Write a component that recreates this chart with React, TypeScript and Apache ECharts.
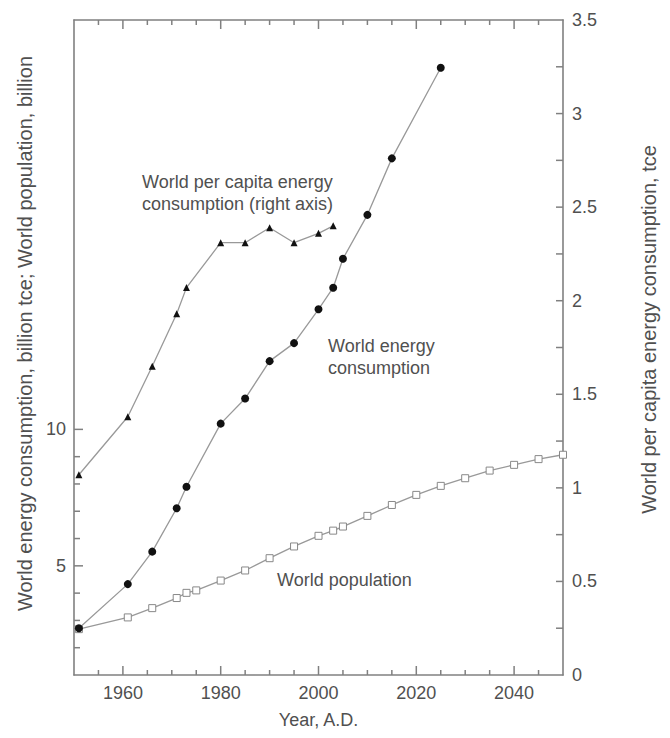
import React, { useEffect, useRef } from "react";
import * as echarts from "echarts";

const energyYears = [1951, 1961, 1966, 1971, 1973, 1980, 1985, 1990, 1995, 2000, 2003, 2005, 2010, 2015, 2025];
const energyValues = [2.71, 4.33, 5.52, 7.11, 7.9, 10.21, 11.13, 12.5, 13.16, 14.4, 15.19, 16.25, 17.86, 19.93, 23.25];

const perCapitaYears = [1951, 1961, 1966, 1971, 1973, 1980, 1985, 1990, 1995, 2000, 2003];
const perCapitaValues = [1.07, 1.38, 1.65, 1.93, 2.07, 2.31, 2.31, 2.39, 2.31, 2.36, 2.4];

const popYears = [1951, 1961, 1966, 1971, 1973, 1975, 1980, 1985, 1990, 1995, 2000, 2003, 2005, 2010, 2015, 2020, 2025, 2030, 2035, 2040, 2045, 2050];
const popValues = [2.68, 3.11, 3.45, 3.82, 4.01, 4.1, 4.46, 4.83, 5.28, 5.71, 6.1, 6.29, 6.44, 6.83, 7.23, 7.6, 7.93, 8.21, 8.49, 8.7, 8.91, 9.07];

const xMajorLabels = [1960, 1980, 2000, 2020, 2040];
const xTickYears = [1955, 1960, 1965, 1970, 1975, 1980, 1985, 1990, 1995, 2000, 2005, 2010, 2015, 2020, 2025, 2030, 2035, 2040, 2045];
const leftLabels = [5, 10];
const leftTicks = [2, 3, 4, 5, 6, 7, 8, 9, 10];
const rightLabels = [0, 0.5, 1, 1.5, 2, 2.5, 3, 3.5];
const rightTicks = [0.25, 0.5, 0.75, 1, 1.25, 1.5, 1.75, 2, 2.25, 2.5, 2.75, 3, 3.25];

const FONT = "Liberation Sans, Arial, sans-serif";
const AXIS_COLOR = "#808080";
const TEXT_COLOR = "#505050";
const LINE_COLOR = "#999";
const FS = 18;
const TITLE_FS = 20;

export default function App() {
  const ref = useRef<HTMLDivElement>(null);
  useEffect(() => {
    if (!ref.current) return;
    const chart = echarts.init(ref.current, undefined, { renderer: "svg" });
    const zip = (xs: number[], ys: number[]) => xs.map((x, i) => [x, ys[i]]);
    const tickStyle = { stroke: AXIS_COLOR, lineWidth: 1.5 };
    const option = {
      animation: false,
      backgroundColor: "#fff",
      textStyle: { fontFamily: FONT },
      grid: { left: 74, right: 107, top: 20, bottom: 63 },
      xAxis: [
        {
          type: "value",
          min: 1950,
          max: 2050,
          interval: 5,
          position: "bottom",
          splitLine: { show: false },
          axisLine: { show: true, onZero: false, lineStyle: { color: AXIS_COLOR, width: 1.6 } },
          axisTick: { show: false },
          axisLabel: {
            customValues: xMajorLabels,
            formatter: (v: number) => String(v),
            color: TEXT_COLOR,
            fontSize: FS,
            fontFamily: FONT,
            margin: 9,
          },
          name: "Year, A.D.",
          nameLocation: "middle",
          nameGap: 36,
          nameTextStyle: { color: TEXT_COLOR, fontSize: FS, fontFamily: FONT },
        },
        {
          type: "value",
          min: 1950,
          max: 2050,
          interval: 5,
          position: "top",
          splitLine: { show: false },
          axisLine: { show: true, onZero: false, lineStyle: { color: AXIS_COLOR, width: 1.6 } },
          axisTick: { show: false },
          axisLabel: { show: false },
        },
      ],
      yAxis: [
        {
          type: "value",
          position: "left",
          min: 1,
          max: 25,
          interval: 1,
          splitLine: { show: false },
          axisLine: { show: true, onZero: false, lineStyle: { color: AXIS_COLOR, width: 1.6 } },
          axisTick: { show: false },
          axisLabel: { customValues: leftLabels, color: TEXT_COLOR, fontSize: FS, fontFamily: FONT, margin: 8 },
          name: "World energy consumption, billion tce; World population, billion",
          nameLocation: "middle",
          nameRotate: 90,
          nameGap: 39,
          nameTextStyle: { color: TEXT_COLOR, fontSize: TITLE_FS, fontFamily: FONT, padding: [0, 0, 0, 28] },
        },
        {
          type: "value",
          position: "right",
          min: 0,
          max: 3.5,
          interval: 0.25,
          splitLine: { show: false },
          axisLine: { show: true, onZero: false, lineStyle: { color: AXIS_COLOR, width: 1.6 } },
          axisTick: { show: false },
          axisLabel: {
            customValues: rightLabels,
            formatter: (v: number) => String(v),
            color: TEXT_COLOR,
            fontSize: FS,
            fontFamily: FONT,
            margin: 9,
          },
          name: "World per capita energy consumption, tce",
          nameLocation: "middle",
          nameRotate: 90,
          nameGap: 76,
          nameTextStyle: { color: TEXT_COLOR, fontSize: TITLE_FS, fontFamily: FONT, padding: [0, 0, 0, 36] },
        },
      ],
      series: [
        {
          name: "x ticks",
          type: "custom",
          xAxisIndex: 0,
          yAxisIndex: 0,
          silent: true,
          clip: false,
          z: 1,
          data: xTickYears.map((y) => [y, xMajorLabels.includes(y) ? 1 : 0]),
          renderItem: (_p: any, api: any) => {
            const year = api.value(0);
            const len = api.value(1) === 1 ? 9 : 5;
            const bot = api.coord([year, 1]);
            const top = api.coord([year, 25]);
            return {
              type: "group",
              children: [
                { type: "line", shape: { x1: bot[0], y1: bot[1], x2: bot[0], y2: bot[1] - len }, style: tickStyle },
                { type: "line", shape: { x1: top[0], y1: top[1], x2: top[0], y2: top[1] + len }, style: tickStyle },
              ],
            };
          },
        },
        {
          name: "left ticks",
          type: "custom",
          xAxisIndex: 0,
          yAxisIndex: 0,
          silent: true,
          clip: false,
          z: 1,
          data: leftTicks.map((v) => [1950, v]),
          renderItem: (_p: any, api: any) => {
            const v = api.value(1);
            const len = leftLabels.includes(v) ? 9 : 6;
            const p = api.coord([1950, v]);
            return { type: "line", shape: { x1: p[0], y1: p[1], x2: p[0] + len, y2: p[1] }, style: tickStyle };
          },
        },
        {
          name: "right ticks",
          type: "custom",
          xAxisIndex: 0,
          yAxisIndex: 1,
          silent: true,
          clip: false,
          z: 1,
          data: rightTicks.map((v) => [2050, v]),
          renderItem: (_p: any, api: any) => {
            const v = api.value(1);
            const p = api.coord([2050, v]);
            return { type: "line", shape: { x1: p[0], y1: p[1], x2: p[0] - 7, y2: p[1] }, style: tickStyle };
          },
        },
        {
          name: "World energy consumption",
          type: "line",
          xAxisIndex: 0,
          yAxisIndex: 0,
          data: zip(energyYears, energyValues),
          symbol: "circle",
          symbolSize: 8,
          itemStyle: { color: "#111" },
          lineStyle: { color: LINE_COLOR, width: 1.3 },
          z: 3,
        },
        {
          name: "World per capita energy consumption",
          type: "line",
          xAxisIndex: 0,
          yAxisIndex: 1,
          data: zip(perCapitaYears, perCapitaValues),
          symbol: "triangle",
          symbolSize: 7,
          itemStyle: { color: "#111" },
          lineStyle: { color: LINE_COLOR, width: 1.3 },
          z: 3,
        },
        {
          name: "World population",
          type: "line",
          xAxisIndex: 0,
          yAxisIndex: 0,
          data: zip(popYears, popValues),
          symbol: "rect",
          symbolSize: 7,
          itemStyle: { color: "#fff", borderColor: "#888", borderWidth: 1 },
          lineStyle: { color: LINE_COLOR, width: 1.3 },
          z: 2,
        },
      ],
      graphic: [
        {
          type: "text",
          left: 142,
          top: 171,
          style: {
            text: "World per capita energy\nconsumption (right axis)",
            fill: TEXT_COLOR,
            font: `${FS}px ${FONT}`,
            lineHeight: 22,
          },
        },
        {
          type: "text",
          left: 328,
          top: 335,
          style: {
            text: "World energy\nconsumption",
            fill: TEXT_COLOR,
            font: `${FS}px ${FONT}`,
            lineHeight: 22,
          },
        },
        {
          type: "text",
          left: 277,
          top: 571,
          style: {
            text: "World population",
            fill: TEXT_COLOR,
            font: `${FS}px ${FONT}`,
          },
        },
      ],
    };
    chart.setOption(option as any);
    return () => chart.dispose();
  }, []);
  return <div ref={ref} style={{ width: 670, height: 738, margin: -8 }} />;
}
